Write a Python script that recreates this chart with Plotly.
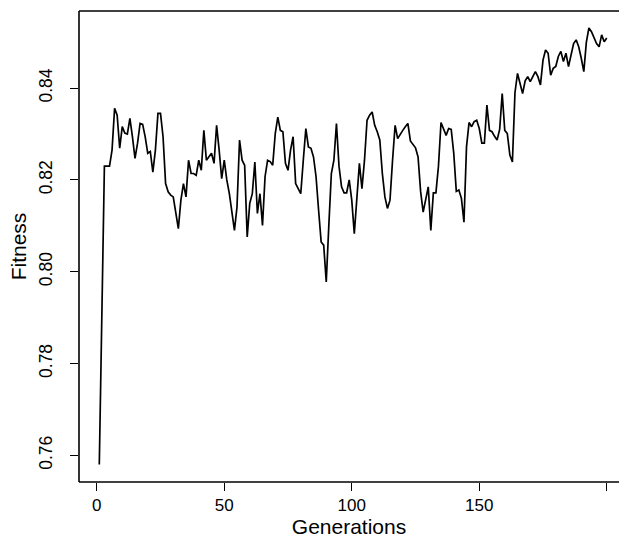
import plotly.graph_objects as go

generations = list(range(1, 201))
fitness = [
    # 1-34
    0.7580, 0.7900, 0.8230, 0.8230, 0.8230, 0.8265, 0.8356, 0.8341, 0.8269, 0.8316,
    0.8302, 0.8300, 0.8334, 0.8294, 0.8247, 0.8280, 0.8323, 0.8321, 0.8294, 0.8258,
    0.8262, 0.8217, 0.8265, 0.8345, 0.8345, 0.8294, 0.8192, 0.8174, 0.8167, 0.8163,
    0.8125, 0.8094, 0.8156, 0.8192,
    # 35-67
    0.8163, 0.8243, 0.8214, 0.8214, 0.8210, 0.8243, 0.8221, 0.8308, 0.8243, 0.8250,
    0.8258, 0.8236, 0.8319, 0.8265, 0.8203, 0.8243, 0.8200, 0.8170, 0.8127, 0.8090,
    0.8141, 0.8287, 0.8243, 0.8232, 0.8076, 0.8149, 0.8170, 0.8239, 0.8127, 0.8170,
    0.8101, 0.8207, 0.8243,
    # 68-101
    0.8240, 0.8232, 0.8301, 0.8337, 0.8308, 0.8305, 0.8236, 0.8221, 0.8265, 0.8294,
    0.8192, 0.8181, 0.8170, 0.8243, 0.8312, 0.8272, 0.8269, 0.8250, 0.8207, 0.8134,
    0.8065, 0.8058, 0.7978, 0.8100, 0.8214, 0.8243, 0.8323, 0.8230, 0.8185, 0.8172,
    0.8172, 0.8200, 0.8156, 0.8083,
    # 102-134
    0.8170, 0.8236, 0.8181, 0.8243, 0.8330, 0.8341, 0.8348, 0.8319, 0.8305, 0.8287,
    0.8214, 0.8163, 0.8138, 0.8156, 0.8243, 0.8319, 0.8290, 0.8300, 0.8308, 0.8316,
    0.8323, 0.8285, 0.8277, 0.8270, 0.8250, 0.8175, 0.8130, 0.8156, 0.8185, 0.8090,
    0.8172, 0.8172, 0.8230,
    # 135-167
    0.8325, 0.8312, 0.8297, 0.8312, 0.8310, 0.8258, 0.8175, 0.8178, 0.8160, 0.8108,
    0.8272, 0.8325, 0.8316, 0.8327, 0.8330, 0.8312, 0.8280, 0.8280, 0.8363, 0.8308,
    0.8305, 0.8295, 0.8287, 0.8310, 0.8388, 0.8308, 0.8301, 0.8254, 0.8239, 0.8390,
    0.8432, 0.8410, 0.8388,
    # 168-200
    0.8416, 0.8425, 0.8414, 0.8425, 0.8436, 0.8425, 0.8407, 0.8461, 0.8483, 0.8476,
    0.8428, 0.8443, 0.8447, 0.8469, 0.8480, 0.8458, 0.8476, 0.8447, 0.8476, 0.8497,
    0.8505, 0.8490, 0.8465, 0.8436, 0.8500, 0.8531, 0.8523, 0.8509, 0.8497, 0.8490,
    0.8516, 0.8501, 0.8509,
]
assert len(fitness) == len(generations)

x_ticks = [0, 50, 100, 150, 200]
y_ticks = [0.76, 0.78, 0.80, 0.82, 0.84]
y_tick_labels = ["0.76", "0.78", "0.80", "0.82", "0.84"]

FONT = "Liberation Sans, Arial, Helvetica, sans-serif"

fig = go.Figure()
fig.add_trace(go.Scatter(
    x=generations, y=fitness, mode="lines",
    line=dict(color="black", width=1.7),
    hoverinfo="skip", showlegend=False,
))

fig.update_layout(
    width=619, height=545,
    margin=dict(l=79, r=0, t=11, b=63),
    paper_bgcolor="white", plot_bgcolor="white",
    font=dict(family=FONT, color="black", size=17),
    xaxis=dict(
        range=[-6.96, 204.8], tickvals=x_ticks, ticks="outside", ticklen=8,
        tickwidth=1.2, tickcolor="black", showgrid=False, zeroline=False,
        showline=False, tickfont=dict(size=17, family=FONT),
        title=dict(text="Generations", font=dict(size=21, family=FONT), standoff=4),
    ),
    yaxis=dict(
        range=[0.7542, 0.8568], tickvals=y_ticks, ticktext=y_tick_labels,
        ticks="outside", ticklen=8, tickwidth=1.2, tickcolor="black",
        showgrid=False, zeroline=False, showline=False, tickangle=-90,
        ticklabelstandoff=11,
        tickfont=dict(size=17.5, family=FONT),
        title=dict(text="Fitness", font=dict(size=21, family=FONT), standoff=3),
    ),
    shapes=[
        dict(type="line", xref="paper", yref="paper", x0=0, x1=1, y0=0, y1=0,
             line=dict(color="black", width=1.6)),
        dict(type="line", xref="paper", yref="paper", x0=0, x1=1, y0=1, y1=1,
             line=dict(color="black", width=1.6)),
        dict(type="line", xref="paper", yref="paper", x0=0, x1=0, y0=0, y1=1,
             line=dict(color="black", width=1.6)),
    ],
)

fig.write_html("out.html")
